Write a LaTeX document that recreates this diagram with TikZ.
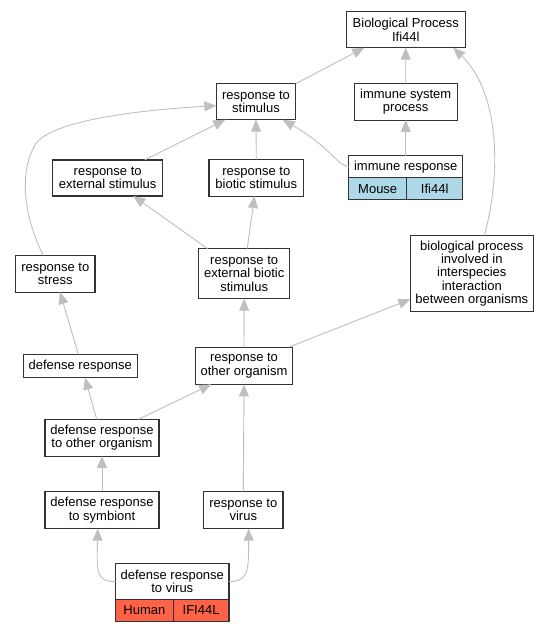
\documentclass[tikz,border=0pt]{standalone}
\usepackage{fontspec}
\setmainfont{Liberation Sans}
\usetikzlibrary{arrows.meta}
\definecolor{mouseblue}{HTML}{ADD8E6}
\definecolor{humanred}{HTML}{FF6347}
\newcommand{\termfont}{\fontsize{13}{13.3}\selectfont}
\begin{document}
\begin{tikzpicture}[x=1pt,y=-1pt,
  term/.style={draw=black!80,line width=1.1pt,fill=white,align=center,inner sep=0pt,outer sep=0pt,font=\termfont},
  cell/.style={term,anchor=north west,minimum height=22pt},
  isa/.style={draw=black!25,line width=0.9pt,-{Triangle[length=12pt,width=10pt]}}]
\useasboundingbox (0,0) rectangle (549,632);
\node[term,minimum width=119,minimum height=36] (bp) at (405.8,29.7) {Biological Process\\Ifi44l};
\node[term,minimum width=103,minimum height=36.7] (isp) at (405.7,101.7) {immune system\\process};
\node[term,minimum width=79.3,minimum height=36] (rts) at (256,101.7) {response to\\stimulus};
\node[term,minimum width=110,minimum height=36] (rtes) at (107.7,178) {response to\\external stimulus};
\node[term,minimum width=94.7,minimum height=36.7] (rtbs) at (256.3,177.7) {response to\\biotic stimulus};
\node[term,minimum width=114,minimum height=22] (ir) at (405.7,166.7) {immune response};
\node[cell,fill=mouseblue,minimum width=58] (irsp) at (ir.south west) {Mouse};
\node[cell,fill=mouseblue,minimum width=56] (irgn) at (irsp.north east) {Ifi44l};
\node[term,minimum width=79.3,minimum height=36.7] (rtst) at (55.3,273.7) {response to\\stress};
\node[term,minimum width=91,minimum height=50] (rteb) at (244.2,273.7) {response to\\external biotic\\stimulus};
\node[term,minimum width=123,minimum height=76.3] (bpii) at (471.8,273.5) {biological process\\involved in\\interspecies\\interaction\\between organisms};
\node[term,minimum width=114,minimum height=23.3] (dr) at (80.3,366) {defense response};
\node[term,minimum width=96.7,minimum height=37.3] (rtoo) at (244,365.7) {response to\\other organism};
\node[term,minimum width=114,minimum height=36.7] (droo) at (102,437.7) {defense response\\to other organism};
\node[term,minimum width=114,minimum height=37.3] (drs) at (102,510) {defense response\\to symbiont};
\node[term,minimum width=79.3,minimum height=37.3] (rtv) at (243.3,510) {response to\\virus};
\node[term,minimum width=113.3,minimum height=35.6] (drv) at (172.3,581.5) {defense response\\to virus};
\node[cell,fill=humanred,minimum width=57.6] (drvsp) at (drv.south west) {Human};
\node[cell,fill=humanred,minimum width=55.7] (drvgn) at (drvsp.north east) {IFI44L};
\draw[isa] (isp.north) -- (bp.south);
\draw[isa] (rts.north east) -- ([xshift=18pt]bp.south west);
\draw[isa] (ir.north) -- (isp.south);
\draw[isa] (ir.west) .. controls (336,165) and (332,148) .. ([xshift=-13pt]rts.south east);
\draw[isa] ([xshift=37pt]rtes.north) -- ([xshift=9pt]rts.south west);
\draw[isa] (rtbs.north) -- (rts.south);
\draw[isa] ([xshift=-12pt]rtst.north) .. controls (30,230) and (15,180) .. (35,145) .. controls (49,120.5) and (140,110) .. ([yshift=-4pt]rts.west);
\draw[isa] ([xshift=9pt]rteb.north west) -- ([xshift=25.6pt]rtes.south);
\draw[isa] ([xshift=3pt]rteb.north) -- ([xshift=-1.8pt]rtbs.south);
\draw[isa] ([xshift=12.5pt]bpii.north) .. controls (500,180) and (502,95) .. ([xshift=47.5pt]bp.south);
\draw[isa] (rtoo.north) -- (rteb.south);
\draw[isa] ([xshift=-3.3pt]rtoo.north east) -- ([yshift=-25.8pt]bpii.west);
\draw[isa] ([xshift=-2pt]dr.north) -- ([xshift=4.7pt]rtst.south);
\draw[isa] ([xshift=-5.3pt]droo.north) -- ([xshift=4.7pt]dr.south);
\draw[isa] ([xshift=36.3pt]droo.north) -- ([xshift=15.6pt]rtoo.south west);
\draw[isa] (drs.north) -- (droo.south);
\draw[isa] (rtv.north) -- (rtoo.south);
\draw[isa] (drv.west) .. controls (95,582) and (97,570) .. ([xshift=-4.3pt]drs.south);
\draw[isa] (drv.east) .. controls (249,582) and (248.5,570) .. ([xshift=5.4pt]rtv.south);
\end{tikzpicture}
\end{document}
